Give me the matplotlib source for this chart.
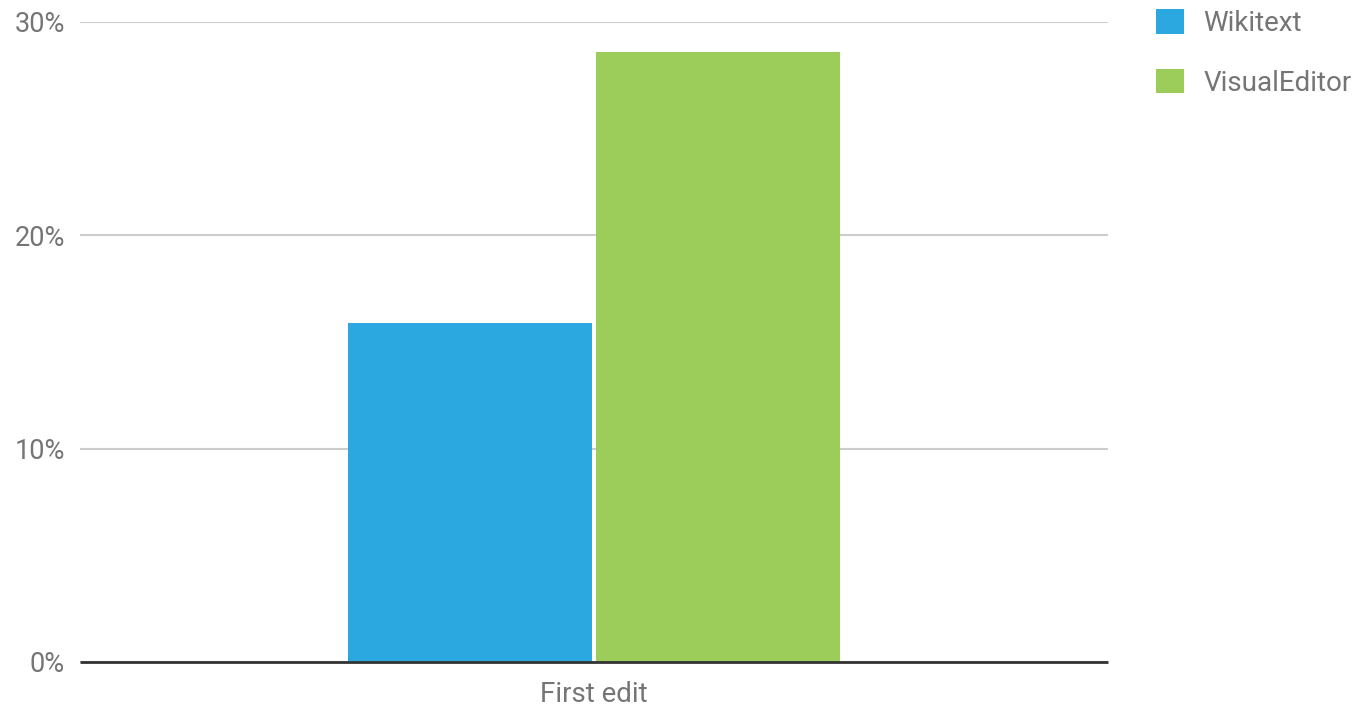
import matplotlib
matplotlib.use("Agg")
import matplotlib.pyplot as plt
from matplotlib.patches import Patch

categories = ["First edit"]
series_names = ["Wikitext", "VisualEditor"]
series_values = [[15.9], [28.6]]
colors = ["#2ca8e0", "#9ccc59"]
yticks = [0, 10, 20, 30]

plt.rcParams['font.family'] = ['Roboto', 'DejaVu Sans']
fig = plt.figure(figsize=(13.66, 7.10), dpi=100)
ax = fig.add_axes([80/1366, 1-662/710, 1028/1366, 640/710])

w = 0.238
gap = 0.0015
for i, (name, vals) in enumerate(zip(series_names, series_values)):
    off = (i - 0.5) * (w + 2*gap)
    ax.bar([j + off for j in range(len(categories))], vals, width=w,
           color=colors[i], label=name, zorder=3)

ax.set_xlim(-0.5, 0.5)
ax.set_ylim(0, 30)
ax.set_yticks(yticks)
ax.set_yticklabels([f"{t}%" for t in yticks])
ax.set_xticks(range(len(categories)))
ax.set_xticklabels(categories)
ax.tick_params(axis='y', length=0, labelsize=19.5, colors='#757575', pad=11)
ax.tick_params(axis='x', length=0, labelsize=20, colors='#757575', pad=14)
ax.grid(axis='y', color='#cccccc', linewidth=1.5, zorder=0)
for s in ['top', 'right', 'left']:
    ax.spines[s].set_visible(False)
ax.spines['bottom'].set_color('#333333')
ax.spines['bottom'].set_linewidth(2)
ax.spines['bottom'].set_capstyle('butt')
ax.spines['bottom'].set_zorder(4)

handles = [Patch(facecolor=c, edgecolor='none') for c in colors]
leg = fig.legend(handles, series_names, loc='upper left',
                 bbox_to_anchor=(1131/1366, 1.023), frameon=False,
                 fontsize=20, labelcolor='#757575', handlelength=1.0,
                 handleheight=1.0, handletextpad=0.7, labelspacing=1.15)

fig.savefig("out.png", dpi=100)
